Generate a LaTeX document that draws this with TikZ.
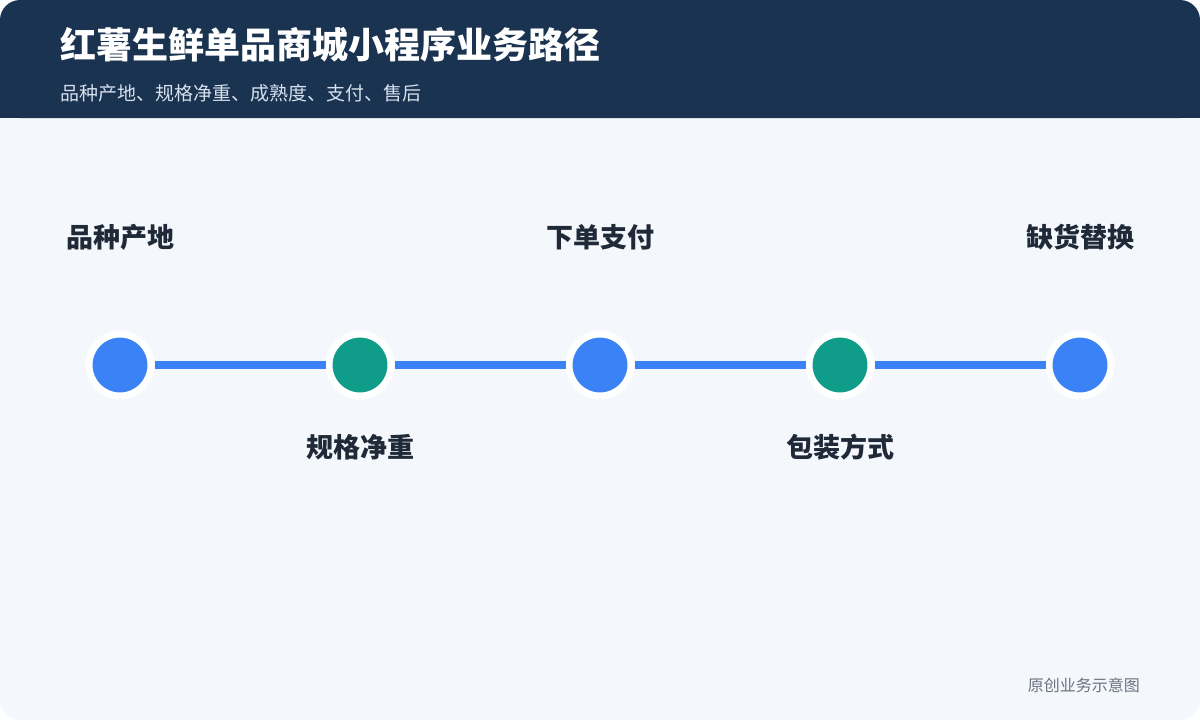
\documentclass[tikz,border=0pt]{standalone}
\usepackage{fontspec}
\setmainfont{Noto Sans CJK SC}
\definecolor{navy}{HTML}{1A3350}
\definecolor{bgc}{HTML}{F4F8FD}
\definecolor{blu}{HTML}{3B82F6}
\definecolor{teal}{HTML}{0F9D89}
\definecolor{lab}{HTML}{1F2937}
\definecolor{sub}{HTML}{D6E0EE}
\definecolor{foot}{HTML}{6B7280}
\begin{document}
\begin{tikzpicture}[x=1pt,y=-1pt,
  dot/.style={circle,draw=white,line width=7pt,minimum size=62pt,inner sep=0pt},
  lbl/.style={font=\fontsize{27}{32}\selectfont\bfseries,text=lab}]
\useasboundingbox (0,0) rectangle (1200,720);
\fill[bgc,rounded corners=20pt] (0,0) rectangle (1200,720);
\fill[navy,rounded corners=20pt] (0,0) rectangle (1200,118);
\fill[navy] (0,60) rectangle (1200,118);
\node[anchor=west,text=white,font=\fontsize{36}{42}\selectfont\bfseries,inner sep=0pt] (t) at (60,45) {红薯生鲜单品商城小程序业务路径};
\node[anchor=west,text=sub,font=\fontsize{19}{23}\selectfont,inner sep=0pt] (s) at (60,93) {品种产地、规格净重、成熟度、支付、售后};
\foreach \i/\x/\c in {1/120/blu,2/360/teal,3/600/blu,4/840/teal,5/1080/blu}
  \node[dot,fill=\c] (n\i) at (\x,365) {};
\foreach \a/\b in {1/2,2/3,3/4,4/5}
  \draw[blu,line width=8pt] (n\a) -- (n\b);
\node[lbl] (l1) at (120,237) {品种产地};
\node[lbl] (l2) at (360,447) {规格净重};
\node[lbl] (l3) at (600,237) {下单支付};
\node[lbl] (l4) at (840,447) {包装方式};
\node[lbl] (l5) at (1080,237) {缺货替换};
\node[anchor=east,text=foot,font=\fontsize{16}{19}\selectfont,inner sep=0pt] (f) at (1140,685) {原创业务示意图};
\end{tikzpicture}
\end{document}
